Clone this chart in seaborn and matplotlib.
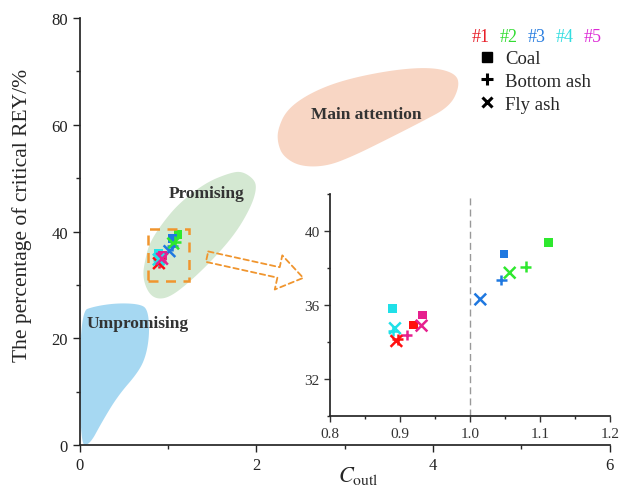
import matplotlib
matplotlib.use("Agg")
import matplotlib.pyplot as plt
import numpy as np
import pandas as pd
import seaborn as sns
from matplotlib.lines import Line2D
from matplotlib.patches import Rectangle, FancyArrowPatch
from matplotlib.ticker import MultipleLocator


# samples #1..#5, each with coal / bottom ash / fly ash
samples = ["#1", "#2", "#3", "#4", "#5"]
sample_colors = ["#ff1010", "#2ee82e", "#1f78e0", "#20e0e8", "#e6208e"]
label_colors = ["#e8202a", "#33dd33", "#2a7ee0", "#33dde0", "#dd2ad6"]
types = ["Coal", "Bottom ash", "Fly ash"]
type_markers = {"Coal": "s", "Bottom ash": "+", "Fly ash": "x"}

coal_x = [0.919, 1.112, 1.049, 0.889, 0.932]
coal_y = [34.93, 39.37, 38.76, 35.83, 35.47]
bottom_x = [0.897, 1.080, 1.045, 0.890, 0.910]
bottom_y = [34.15, 38.08, 37.36, 34.60, 34.39]
fly_x = [0.895, 1.057, 1.015, 0.893, 0.931]
fly_y = [34.06, 37.75, 36.31, 34.75, 34.89]

# region outlines (main-axes units)
unprom_x = [0, 0.11, 0.25, 0.43, 0.66, 0.75, 0.79, 0.77, 0.68, 0.43, 0.17, 0]
unprom_y = [0, 0, 4.3, 9.2, 13.6, 16.7, 21.0, 25.4, 26.4, 26.6, 26.0, 25.0]
prom_x = [1.98, 1.84, 1.70, 1.43, 1.13, 0.94, 0.79, 0.74, 0.71, 0.77, 0.87,
          1.02, 1.24, 1.51, 1.77, 1.94, 2.00]
prom_y = [49.7, 51.3, 51.0, 49.2, 45.4, 41.7, 37.9, 34.8, 31.6, 28.6, 27.3,
          27.7, 30.5, 34.8, 39.8, 44.7, 47.9]
main_x = [2.24, 2.34, 2.60, 2.98, 3.54, 3.99, 4.26, 4.30, 4.19, 3.85, 3.47,
          3.09, 2.79, 2.49, 2.30, 2.24]
main_y = [59.1, 62.8, 65.9, 68.4, 70.3, 70.8, 69.6, 67.2, 63.4, 60.4, 57.2,
          54.1, 52.2, 52.2, 54.1, 56.6]


def smooth(xs, ys, n=4):
    # chaikin corner cutting for a closed outline
    pts = np.column_stack([xs, ys])
    for _ in range(n):
        nxt = np.roll(pts, -1, axis=0)
        q = 0.75 * pts + 0.25 * nxt
        r = 0.25 * pts + 0.75 * nxt
        pts = np.empty((2 * len(q), 2))
        pts[0::2] = q
        pts[1::2] = r
    return pts[:, 0], pts[:, 1]


df = pd.DataFrame({
    "sample": samples * 3,
    "type": [t for t in types for _ in samples],
    "x": coal_x + bottom_x + fly_x,
    "y": coal_y + bottom_y + fly_y,
})

sns.set_theme(style="ticks")
plt.rcParams["font.family"] = ["Liberation Serif", "DejaVu Serif"]
plt.rcParams["mathtext.fontset"] = "stix"

fig = plt.figure(figsize=(6.19, 4.89), dpi=100)
ax = fig.add_axes([0.129, 0.088, 0.856, 0.873])
ins = fig.add_axes([0.533, 0.147, 0.452, 0.454])

palette = dict(zip(samples, sample_colors))


def draw_points(a):
    for t in types:
        sub = df[df["type"] == t]
        if t == "Coal":
            sns.scatterplot(data=sub, x="x", y="y", hue="sample", palette=palette,
                            marker="s", s=40, linewidth=0, legend=False, ax=a, zorder=3)
        else:
            sns.scatterplot(data=sub, x="x", y="y", hue="sample", palette=palette,
                            marker=type_markers[t], s=70 if t == "Fly ash" else 60,
                            linewidth=1.8, legend=False, ax=a, zorder=3)


# main plot
for xs, ys, c in [(unprom_x, unprom_y, "#a6d8f2"), (prom_x, prom_y, "#d4e8d2"),
                  (main_x, main_y, "#f8d6c4")]:
    sx, sy = smooth(xs, ys)
    ax.fill(sx, sy, color=c, lw=0, zorder=0)

draw_points(ax)

ax.text(0.076, 22.8, "Umpromising", fontsize=12.5, fontweight="bold",
        color="#333333", ha="left", va="center")
ax.text(1.44, 47.3, "Promising", fontsize=12.5, fontweight="bold",
        color="#333333", ha="center", va="center")
ax.text(3.24, 62.1, "Main attention", fontsize=12.5, fontweight="bold",
        color="#333333", ha="center", va="center")

ax.add_patch(Rectangle((0.77, 30.7), 0.47, 9.7, fill=False, ec="#f0952e",
                       lw=1.8, ls=(0, (4, 3)), zorder=4))
ax.add_patch(FancyArrowPatch((1.41, 35.4), (2.56, 31.2),
                             arrowstyle="simple,head_length=1.3,head_width=1.8,tail_width=0.55",
                             mutation_scale=14, fill=False, ec="#f0952e",
                             lw=1.3, ls=(0, (3, 2)), zorder=4))

ax.set_xlim(0, 6)
ax.set_ylim(0, 80)
ax.xaxis.set_major_locator(MultipleLocator(2))
ax.xaxis.set_minor_locator(MultipleLocator(1))
ax.yaxis.set_major_locator(MultipleLocator(20))
ax.yaxis.set_minor_locator(MultipleLocator(10))
ax.tick_params(which="major", length=5, width=1, labelsize=12, colors="#222222")
ax.tick_params(which="minor", length=3, width=1)
ax.set_xlabel(r"$C_{\mathrm{outl}}$", fontsize=16)
ax.set_ylabel("The percentage of critical REY/%", fontsize=15.5)
ax.xaxis.set_label_coords(0.525, -0.045)
ax.yaxis.set_label_coords(-0.09, 0.54)
sns.despine(ax=ax)

# sample colour row
for i, (s, c) in enumerate(zip(samples, label_colors)):
    ax.text(0.757 + i * 0.0528, 0.958, s, color=c, fontsize=13,
            ha="center", va="center", transform=ax.transAxes)

handles = [Line2D([], [], ls="none", marker="s", color="black", markersize=6.5),
           Line2D([], [], ls="none", marker="+", color="black", markersize=9, mew=2.2),
           Line2D([], [], ls="none", marker="x", color="black", markersize=7, mew=2.2)]
ax.legend(handles, types, loc="upper left", bbox_to_anchor=(0.75, 0.925),
          frameon=False, fontsize=13.5, handlelength=1.0, handletextpad=0.5,
          labelspacing=0.3, borderpad=0, borderaxespad=0)

# inset
ins.set_facecolor("none")
draw_points(ins)
ins.axvline(1.0, color="#999999", lw=1, ls=(0, (5, 3)), zorder=1)
ins.set_xlim(0.8, 1.2)
ins.set_ylim(30, 42)
ins.xaxis.set_major_locator(MultipleLocator(0.1))
ins.xaxis.set_minor_locator(MultipleLocator(0.05))
ins.yaxis.set_major_locator(MultipleLocator(4))
ins.yaxis.set_minor_locator(MultipleLocator(2))
ins.set_xticks([0.8, 0.9, 1.0, 1.1, 1.2])
ins.set_xticklabels(["0.8", "0.9", "1.0", "1.1", "1.2"])
ins.set_yticks([32, 36, 40])
ins.tick_params(which="major", length=4, width=1, labelsize=11, colors="#333333")
ins.tick_params(which="minor", length=2.5, width=1)
ins.set_xlabel("")
ins.set_ylabel("")
sns.despine(ax=ins)

fig.savefig("out.png", dpi=100)
